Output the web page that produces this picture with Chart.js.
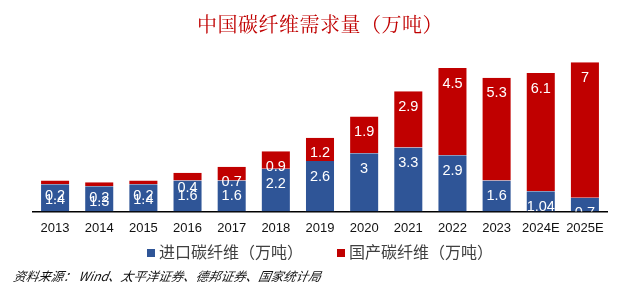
<!DOCTYPE html>
<html><head><meta charset="utf-8">
<script src="https://cdn.jsdelivr.net/npm/chart.js@4/dist/chart.umd.min.js"></script>
<style>
html,body{margin:0;padding:0;background:#fff;width:640px;height:291px;overflow:hidden;}
#wrap{position:relative;width:640px;height:291px;}
#title{position:absolute;left:0;top:11px;width:640px;text-align:center;font-family:"Noto Serif CJK SC","Noto Sans CJK SC",serif;font-size:20px;color:#c00000;line-height:26px;letter-spacing:0.5px;}
#cv{position:absolute;left:0;top:0;}
.leg{position:absolute;top:241px;font-family:"Noto Sans CJK SC",sans-serif;font-size:16px;color:#404040;line-height:20px;white-space:nowrap;}
.sw{display:inline-block;width:8px;height:8px;margin-right:4px;vertical-align:1px;}
#src{position:absolute;left:12px;top:267px;font-family:"Noto Sans CJK SC",sans-serif;font-style:italic;font-size:12.5px;color:#111;line-height:18px;white-space:nowrap;transform:skewX(-10deg);transform-origin:left bottom;}
</style></head>
<body><div id="wrap">
<canvas id="cv" width="640" height="244"></canvas>
<div id="title">中国碳纤维需求量（万吨）</div>
<div class="leg" style="left:147px;"><span class="sw" style="background:#2f5597"></span>进口碳纤维（万吨）</div>
<div class="leg" style="left:337px;"><span class="sw" style="background:#c00000"></span>国产碳纤维（万吨）</div>
<div id="src">资料来源： Wind、太平洋证券、德邦证券、国家统计局</div>
</div>
<script>
const years = ["2013","2014","2015","2016","2017","2018","2019","2020","2021","2022","2023","2024E","2025E"];
const importVals = [1.4,1.3,1.4,1.6,1.6,2.2,2.6,3,3.3,2.9,1.6,1.04,0.7];
const domesticVals = [0.2,0.2,0.2,0.4,0.7,0.9,1.2,1.9,2.9,4.5,5.3,6.1,7];
const seriesNames = ["进口碳纤维（万吨）","国产碳纤维（万吨）"];

const labelPlugin = {
  id:'segLabels',
  afterDatasetsDraw(chart){
    const ctx = chart.ctx, ca = chart.chartArea;
    ctx.save();
    ctx.beginPath();
    ctx.rect(ca.left, ca.top-20, ca.right-ca.left, ca.bottom-ca.top+20);
    ctx.clip();
    ctx.fillStyle = '#fff';
    ctx.font = '14.5px "Liberation Sans", Arial, sans-serif';
    ctx.textAlign = 'center';
    ctx.textBaseline = 'middle';
    chart.data.datasets.forEach((ds, di) => {
      const meta = chart.getDatasetMeta(di);
      meta.data.forEach((bar, i) => {
        ctx.fillText(String(ds.data[i]), bar.x, bar.y + 15.5);
      });
    });
    ctx.restore();
  }
};

new Chart(document.getElementById('cv'), {
  type:'bar',
  data:{
    labels: years,
    datasets:[
      {label:seriesNames[0], data:importVals, backgroundColor:'#2f5597', borderColor:'rgba(255,255,255,0.35)', borderWidth:{left:1,right:1,top:0,bottom:0}, barPercentage:0.68, categoryPercentage:1.0},
      {label:seriesNames[1], data:domesticVals, backgroundColor:'#c00000', borderColor:'rgba(255,255,255,0.35)', borderWidth:{left:1,right:1,top:0,bottom:0}, barPercentage:0.68, categoryPercentage:1.0}
    ]
  },
  options:{
    responsive:false, animation:false,
    layout:{padding:{left:33,right:33,top:56.4,bottom:7}},
    plugins:{legend:{display:false}, title:{display:false}, tooltip:{enabled:false}},
    scales:{
      x:{stacked:true, grid:{display:false}, border:{display:true,color:'#000',width:1.5},
         ticks:{color:'#111', font:{family:'"Liberation Sans", Arial, sans-serif', size:13}, padding:1, maxRotation:0, autoSkip:false}},
      y:{stacked:true, display:false, min:0, max:8}
    }
  },
  plugins:[labelPlugin]
});
</script>
</body></html>
